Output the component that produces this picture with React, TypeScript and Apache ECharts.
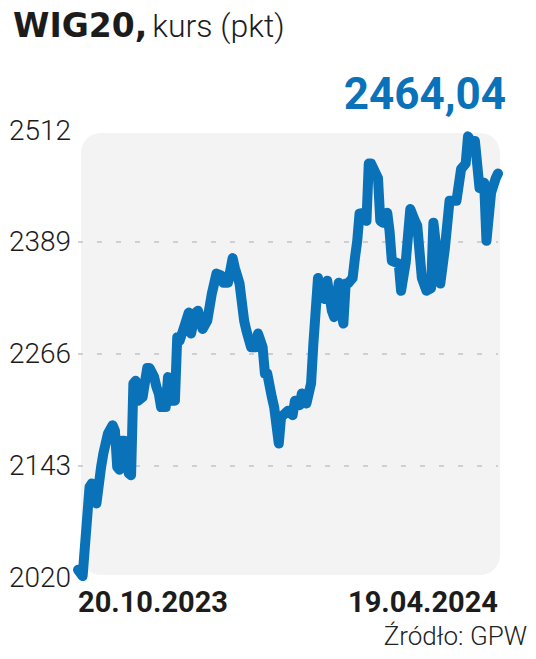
import React, { useEffect, useRef } from "react";
import * as echarts from "echarts";

// Days since 20.10.2023
const DAYS = [
  0, 2, 5, 6, 8, 10, 11, 13, 15, 16, 17, 18, 19, 20, 22, 23, 24, 25, 26, 28,
  30, 31, 33, 34, 35, 36, 38, 39, 41, 42, 43, 44, 46, 48, 49, 51, 52, 54, 56, 58,
  60, 62, 63, 65, 67, 68, 70, 72, 73, 75, 77, 78, 80, 81, 82, 84, 85, 87, 88, 91,
  93, 94, 96, 97, 99, 101, 102, 104, 106, 107, 108, 110, 111, 113, 114, 115, 116, 117, 119, 120,
  121, 122, 124, 125, 126, 127, 130, 131, 132, 134, 135, 136, 139, 140, 142, 144, 146, 147, 149, 151,
  153, 154, 156, 157, 159, 161, 164, 166, 168, 169, 171, 172, 174, 176, 177, 179, 181, 182,
];
// WIG20 closing values (pkt)
const VALUES = [
  2028, 2021, 2119, 2123, 2101, 2141, 2156, 2178, 2187, 2181, 2141, 2138, 2170, 2170, 2134, 2132, 2233, 2236, 2214, 2218,
  2250, 2250, 2240, 2229, 2222, 2207, 2207, 2240, 2214, 2214, 2284, 2280, 2295, 2311, 2288, 2311, 2313, 2293, 2302, 2332,
  2354, 2352, 2344, 2344, 2371, 2360, 2343, 2302, 2291, 2273, 2273, 2288, 2273, 2244, 2244, 2218, 2207, 2167, 2196, 2203,
  2198, 2214, 2209, 2222, 2211, 2233, 2277, 2349, 2327, 2326, 2346, 2313, 2306, 2344, 2313, 2299, 2343, 2343, 2349, 2371,
  2390, 2420, 2421, 2412, 2475, 2475, 2459, 2412, 2410, 2421, 2401, 2368, 2365, 2335, 2366, 2425, 2412, 2407, 2349, 2335,
  2338, 2410, 2366, 2343, 2382, 2434, 2434, 2469, 2475, 2505, 2497, 2500, 2448, 2454, 2390, 2443, 2459, 2464.04,
];
const Y_TICKS = [2020, 2143, 2266, 2389, 2512];
const X_LABELS = ["20.10.2023", "19.04.2024"];
const X_SPAN = 182;

const SANS = "Roboto, 'DejaVu Sans Condensed', sans-serif";
const BLUE = "#0a72b9";

export default function App() {
  const ref = useRef<HTMLDivElement>(null);
  useEffect(() => {
    if (!ref.current) return;
    const chart = echarts.init(ref.current, undefined, { renderer: "svg" });
    const base = Y_TICKS[0];
    const step = Y_TICKS[1] - Y_TICKS[0];
    const data = DAYS.map((d, i) => [d, VALUES[i] - base]);
    const fmtPl = (v: number) => v.toFixed(2).replace(".", ",");
    chart.setOption({
      animation: false,
      title: [
        {
          left: 8,
          top: 4,
          text: "{b|WIG20,} {r|kurs (pkt)}",
          textStyle: {
            rich: {
              b: { fontFamily: "'DejaVu Sans'", fontWeight: "bold", fontSize: 33, color: "#1c1c1c" },
              r: { fontFamily: SANS, fontWeight: 300, fontSize: 32, color: "#1c1c1c" },
            },
          },
        },
        {
          right: 4,
          bottom: 5,
          text: "Źródło: GPW",
          textStyle: { fontFamily: SANS, fontWeight: 300, fontSize: 26, color: "#222" },
        },
      ],
      graphic: [
        {
          type: "rect",
          z: -10,
          shape: { x: 81, y: 133, width: 419, height: 442, r: 20 },
          style: { fill: "#f3f3f3" },
        },
      ],
      grid: { left: 78, right: 38, top: 130, bottom: 82, containLabel: false },
      xAxis: {
        type: "value",
        min: 0,
        max: X_SPAN,
        interval: X_SPAN,
        axisLine: { show: false },
        axisTick: { show: false },
        splitLine: { show: false },
        axisLabel: {
          margin: 10,
          alignMinLabel: "left",
          alignMaxLabel: "right",
          fontFamily: SANS,
          fontWeight: "bold",
          fontSize: 29,
          color: "#1c1c1c",
          formatter: (v: number) => (v === 0 ? X_LABELS[0] : X_LABELS[1]),
        },
      },
      yAxis: {
        type: "value",
        min: 0,
        max: Y_TICKS[Y_TICKS.length - 1] - base,
        interval: step,
        axisLine: { show: false },
        axisTick: { show: false },
        splitLine: {
          show: true,
          lineStyle: {
            color: ["rgba(0,0,0,0)", "#c4c4c4", "#c4c4c4", "#c4c4c4", "rgba(0,0,0,0)"],
            type: [5, 14],
            width: 1.5,
          },
        },
        axisLabel: {
          margin: 7,
          fontFamily: SANS,
          fontWeight: 300,
          fontSize: 28,
          color: "#1c1c1c",
          formatter: (v: number) => String(v + base),
        },
      },
      series: [
        {
          type: "line",
          data,
          showSymbol: false,
          lineStyle: { color: BLUE, width: 10, cap: "round", join: "round" },
          itemStyle: { color: BLUE },
          endLabel: {
            show: true,
            align: "right",
            verticalAlign: "bottom",
            offset: [0, -58],
            fontFamily: SANS,
            fontWeight: "bold",
            fontSize: 44,
            color: BLUE,
            formatter: (p: any) => fmtPl(p.value[1] + base),
          },
        },
      ],
    });
    return () => chart.dispose();
  }, []);
  return (
    <div
      ref={ref}
      style={{ position: "absolute", left: 0, top: 0, width: 536, height: 659, background: "#fff" }}
    />
  );
}
